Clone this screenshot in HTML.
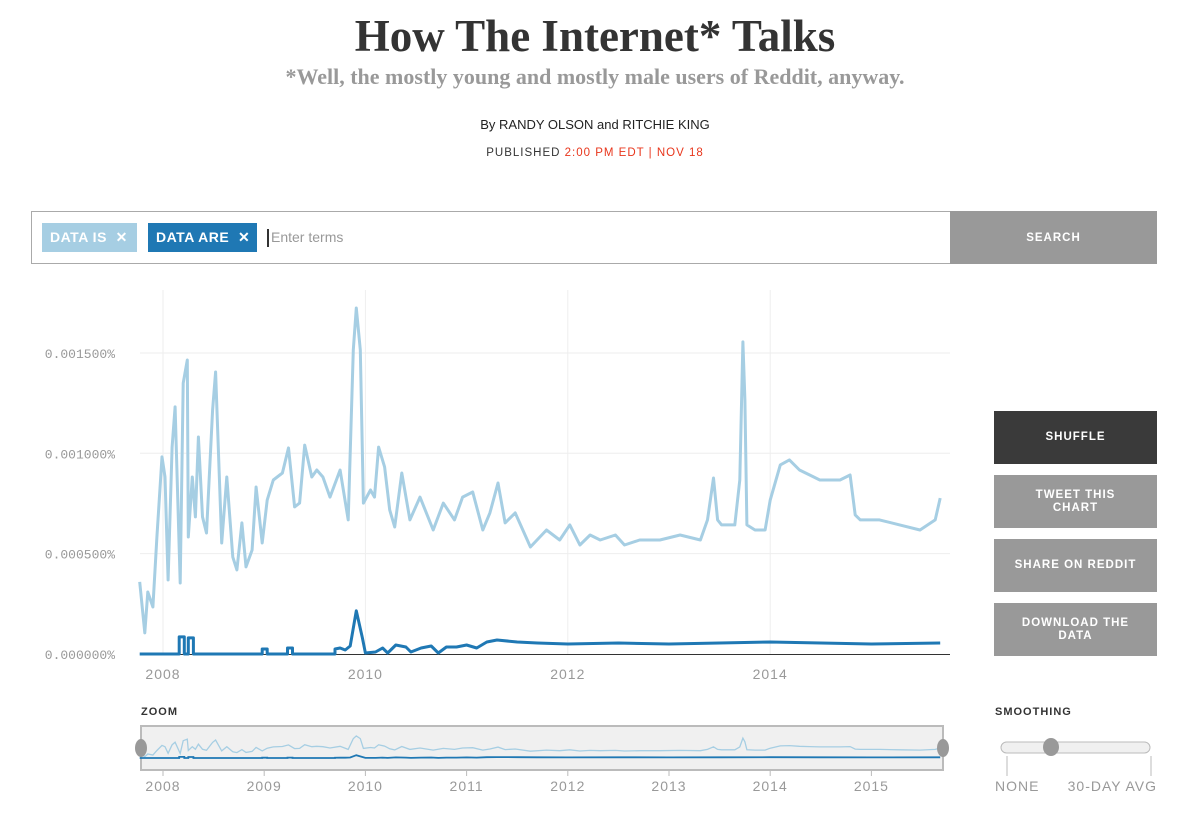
<!DOCTYPE html>
<html><head><meta charset="utf-8"><style>
body{margin:0;width:1200px;height:823px;background:#fff;position:relative;font-family:"Liberation Sans",sans-serif;overflow:hidden}
.abs{position:absolute}
.btn{position:absolute;left:994px;width:163px;height:53px;background:#999;color:#fff;font-size:11.5px;font-weight:bold;letter-spacing:1px;display:flex;align-items:center;justify-content:center;text-align:center;line-height:13px}
.chip{position:absolute;top:223px;height:29px;color:#fff;font-weight:bold;font-size:14px;letter-spacing:.5px;display:flex;align-items:center;padding-left:8px;box-sizing:border-box}
.lab{font-family:"Liberation Mono",monospace;fill:#999;font-size:13px}
.yr{font-family:"Liberation Sans",sans-serif;fill:#999;font-size:14px;letter-spacing:1px}
</style></head><body>
<div class="abs" style="left:0;width:1190px;top:10px;text-align:center;font-family:'Liberation Serif',serif;font-weight:bold;font-size:45px;color:#333">How The Internet* Talks</div>
<div class="abs" style="left:0;width:1190px;top:64px;text-align:center;font-family:'Liberation Serif',serif;font-weight:bold;font-size:22px;color:#999">*Well, the mostly young and mostly male users of Reddit, anyway.</div>
<div class="abs" style="left:0;width:1190px;top:117px;text-align:center;font-size:13px;color:#222">By RANDY OLSON and RITCHIE KING</div>
<div class="abs" style="left:0;width:1190px;top:147px;text-align:center;font-size:11.5px;color:#333;letter-spacing:1px">PUBLISHED <span style="color:#e8361c">2:00 PM EDT | NOV 18</span></div>

<div class="abs" style="left:31px;top:211px;width:1126px;height:53px;border:1px solid #aaa;box-sizing:border-box"></div>
<div class="chip" style="left:42px;width:95px;background:#a6cee3">DATA IS &nbsp;✕</div>
<div class="chip" style="left:148px;width:109px;background:#1f78b4">DATA ARE &nbsp;✕</div>
<div class="abs" style="left:267px;top:229px;font-size:14px;color:#999;border-left:2px solid #333;padding-left:2px;height:18px">Enter terms</div>
<div class="abs" style="left:950px;top:211px;width:207px;height:53px;background:#999;color:#fff;font-size:11.5px;font-weight:bold;letter-spacing:1px;display:flex;align-items:center;justify-content:center">SEARCH</div>

<div class="btn" style="top:411px;background:#3a3a3a">SHUFFLE</div>
<div class="btn" style="top:475px">TWEET THIS<br>CHART</div>
<div class="btn" style="top:539px">SHARE ON REDDIT</div>
<div class="btn" style="top:603px">DOWNLOAD THE<br>DATA</div>

<svg id="chart" class="abs" style="left:0;top:0" width="1200" height="823"></svg>
<script>
const lightYears=[2007.77,2007.82,2007.85,2007.90,2007.94,2007.99,2008.02,2008.05,2008.09,2008.12,2008.17,2008.20,2008.24,2008.25,2008.29,2008.32,2008.35,2008.39,2008.43,2008.49,2008.52,2008.58,2008.63,2008.69,2008.73,2008.78,2008.82,2008.88,2008.92,2008.98,2009.03,2009.09,2009.18,2009.24,2009.30,2009.35,2009.40,2009.47,2009.52,2009.58,2009.65,2009.75,2009.83,2009.88,2009.91,2009.95,2009.98,2010.05,2010.09,2010.13,2010.19,2010.24,2010.29,2010.36,2010.44,2010.54,2010.67,2010.77,2010.88,2010.96,2011.06,2011.16,2011.23,2011.31,2011.38,2011.48,2011.63,2011.79,2011.92,2012.02,2012.12,2012.22,2012.32,2012.47,2012.56,2012.71,2012.91,2013.11,2013.31,2013.38,2013.44,2013.48,2013.52,2013.65,2013.70,2013.73,2013.75,2013.77,2013.85,2013.95,2014.00,2014.10,2014.19,2014.29,2014.39,2014.49,2014.59,2014.69,2014.79,2014.84,2014.89,2014.99,2015.08,2015.28,2015.48,2015.63,2015.68];
const lightVals=[359,105,309,234,583,982,882,369,1031,1231,354,1350,1465,583,882,683,1081,683,603,1216,1405,553,882,483,419,653,434,518,832,553,767,867,902,1027,733,752,1041,882,917,882,782,917,668,1515,1724,1515,752,817,782,1031,932,718,633,902,668,782,618,752,668,782,807,618,703,852,653,703,533,618,568,643,543,593,568,593,543,568,568,593,568,668,877,668,643,643,867,1555,1266,643,618,618,767,942,967,917,892,867,867,867,892,693,668,668,668,643,618,668,777];
const darkYears=[2007.77,2008.16,2008.16,2008.21,2008.21,2008.25,2008.25,2008.30,2008.30,2008.98,2008.98,2009.03,2009.03,2009.23,2009.23,2009.28,2009.28,2009.70,2009.70,2009.75,2009.80,2009.85,2009.91,2009.97,2010.00,2010.10,2010.17,2010.22,2010.30,2010.40,2010.45,2010.55,2010.65,2010.72,2010.80,2010.90,2011.00,2011.10,2011.20,2011.30,2011.50,2011.70,2012.00,2012.50,2013.00,2013.50,2014.00,2014.50,2015.00,2015.68];
const darkVals=[0,0,85,85,0,0,80,80,0,0,25,25,0,0,30,30,0,0,25,30,20,40,215,80,5,10,30,5,45,35,10,30,40,5,35,35,45,30,60,70,60,55,50,55,50,55,60,55,50,55];
const yTicks=[0,500,1000,1500];
const yTickLabels=["0.000000%","0.000500%","0.001000%","0.001500%"];
const mainYears=[2008,2010,2012,2014];
const miniYears=[2008,2009,2010,2011,2012,2013,2014,2015];

const NS="http://www.w3.org/2000/svg";
const svg=document.getElementById('chart');
function el(t,a,p){const e=document.createElementNS(NS,t);for(const k in a)e.setAttribute(k,a[k]);(p||svg).appendChild(e);return e;}
const X=y=>163+(y-2008)*101.2;
const Y=v=>654-v*0.2007;
const MY=v=>758-v*0.0128;

yTicks.forEach((t,i)=>{
  if(t>0){const g=el('line',{x1:140,x2:950,y1:Y(t),y2:Y(t),stroke:'#eee','stroke-width':1});
  
  }
  const tx=el('text',{x:115,y:Y(t)+5,'text-anchor':'end',class:'lab'});tx.textContent=yTickLabels[i];
  
  
});
mainYears.forEach(yr=>{
  const g=el('line',{x1:X(yr),x2:X(yr),y1:290,y2:654,stroke:'#eee','stroke-width':1});
  
  
  const t=el('text',{x:X(yr),y:679,'text-anchor':'middle',class:'yr'});t.textContent=yr;
  
  
});
const ax=el('line',{x1:140,x2:950,y1:654.5,y2:654.5,stroke:'#333','stroke-width':1});



function pts(ys,vs,fx,fy){return ys.map((y,i)=>fx(y).toFixed(1)+','+fy(vs[i]).toFixed(1)).join(' ');}
const l1=el('polyline',{points:pts(lightYears,lightVals,X,Y),fill:'none',stroke:'#a6cee3','stroke-width':3,'stroke-linejoin':'round'});


const l2=el('polyline',{points:pts(darkYears,darkVals,X,Y),fill:'none',stroke:'#1f78b4','stroke-width':3,'stroke-linejoin':'round'});



const zl=el('text',{x:141,y:715,'font-size':11,'font-weight':'bold',fill:'#333','letter-spacing':1});zl.textContent='ZOOM';


const zb=el('rect',{x:141,y:726,width:802,height:44,fill:'#f0f0f0',stroke:'#bbb','stroke-width':2});


const m1=el('polyline',{points:pts(lightYears,lightVals,X,MY),fill:'none',stroke:'#a6cee3','stroke-width':1.3});


const m2=el('polyline',{points:pts(darkYears,darkVals,X,MY),fill:'none',stroke:'#1f78b4','stroke-width':1.8});


[141,943].forEach(x=>{const h=el('ellipse',{cx:x,cy:748,rx:6,ry:9,fill:'#999'});

});
miniYears.forEach(yr=>{
  el('line',{x1:X(yr),x2:X(yr),y1:770,y2:776,stroke:'#bbb'});
  const t=el('text',{x:X(yr),y:791,'text-anchor':'middle',class:'yr'});t.textContent=yr;
  
  
});
const sl=el('text',{x:995,y:715,'font-size':11,'font-weight':'bold',fill:'#333','letter-spacing':1});sl.textContent='SMOOTHING';


const tr=el('rect',{x:1001,y:742,width:149,height:11,rx:5.5,fill:'#f0f0f0',stroke:'#bbb'});


const kn=el('ellipse',{cx:1051,cy:747,rx:8,ry:9,fill:'#999'});


el('line',{x1:1007,x2:1007,y1:756,y2:776,stroke:'#bbb'});
el('line',{x1:1151,x2:1151,y1:756,y2:776,stroke:'#bbb'});
const n1=el('text',{x:995,y:791,class:'yr'});n1.textContent='NONE';


const n2=el('text',{x:1157,y:791,'text-anchor':'end',class:'yr'});n2.textContent='30-DAY AVG';


</script>
</body></html>
